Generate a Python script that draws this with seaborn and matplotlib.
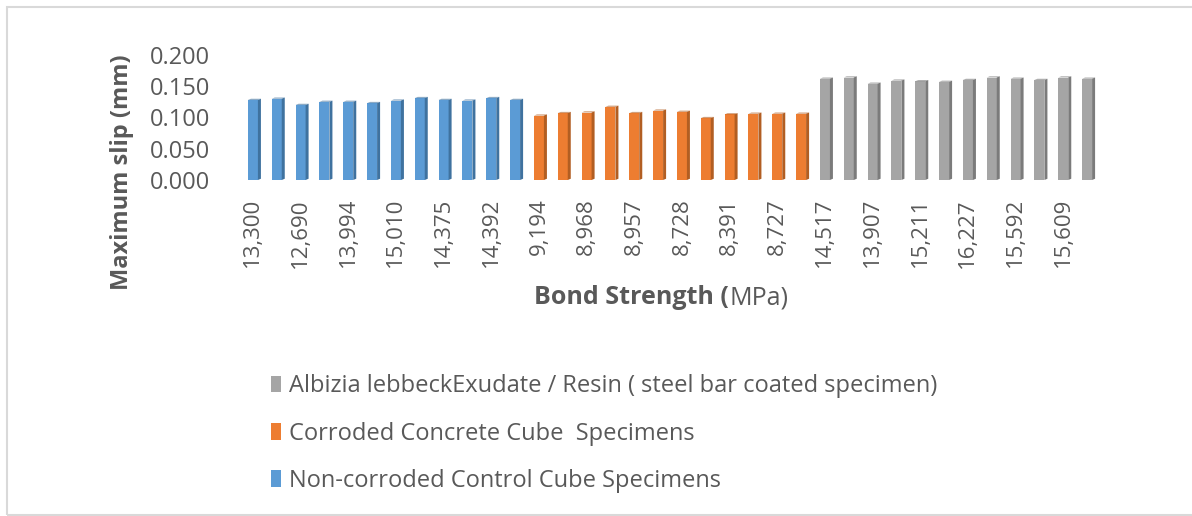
import numpy as np
import pandas as pd
import matplotlib
matplotlib.use("Agg")
import matplotlib.pyplot as plt
from matplotlib.patches import Patch, Polygon, Rectangle
import seaborn as sns

# Maximum slip (mm) for each specimen, in chart order
control_slip = [0.128, 0.130, 0.120, 0.125, 0.125, 0.123, 0.127, 0.131, 0.128, 0.127, 0.131, 0.128]
corroded_slip = [0.103, 0.107, 0.108, 0.117, 0.107, 0.111, 0.109, 0.099, 0.105, 0.106, 0.106, 0.106]
coated_slip = [0.162, 0.164, 0.154, 0.159, 0.158, 0.157, 0.160, 0.164, 0.162, 0.160, 0.164, 0.162]

# Bond strength (MPa) labels shown under every other specimen
control_bond = ["13,300", "12,690", "13,994", "15,010", "14,375", "14,392"]
corroded_bond = ["9,194", "8,968", "8,957", "8,728", "8,391", "8,727"]
coated_bond = ["14,517", "13,907", "15,211", "16,227", "15,592", "15,609"]

series_names = [
    "Non-corroded Control Cube Specimens",
    "Corroded Concrete Cube  Specimens",
    "Albizia lebbeckExudate / Resin ( steel bar coated specimen)",
]
front_colors = ["#5B9BD5", "#ED7D31", "#A5A5A5"]
side_colors = ["#3F729F", "#B25E22", "#7B7B7B"]

slips = control_slip + corroded_slip + coated_slip
groups = ([series_names[0]] * len(control_slip) + [series_names[1]] * len(corroded_slip)
          + [series_names[2]] * len(coated_slip))
df = pd.DataFrame({"specimen": [str(i) for i in range(len(slips))],
                   "slip": slips, "group": groups})
tick_labels = control_bond + corroded_bond + coated_bond

sns.set_theme(style="white")
plt.rcParams["font.family"] = ["Open Sans", "DejaVu Sans"]
text_color = "#595959"

fig = plt.figure(figsize=(11.92, 5.16), dpi=100)
ax = fig.add_axes([241 / 1192, 1 - 180 / 516, 858 / 1192, 125 / 516])

sns.barplot(data=df, x="specimen", y="slip", hue="group", hue_order=series_names,
            palette=front_colors, dodge=False, width=0.42, legend=False,
            linewidth=0, saturation=1, ax=ax)

# give each column a shaded side face for a 3-D look
side_of = dict(zip([tuple(np.round(matplotlib.colors.to_rgb(c), 3)) for c in front_colors], side_colors))
for bar in list(ax.patches):
    x0, w, h = bar.get_x(), bar.get_width(), bar.get_height()
    key = tuple(np.round(bar.get_facecolor()[:3], 3))
    side = side_of.get(key, "#777777")
    d, dy = w * 0.3, 0.002
    ax.add_patch(Polygon([(x0 + w, 0), (x0 + w + d, dy), (x0 + w + d, h + dy), (x0 + w, h)],
                         closed=True, facecolor=side, edgecolor="none", zorder=bar.get_zorder()))
    ax.add_patch(Polygon([(x0, h), (x0 + w, h), (x0 + w + d, h + dy), (x0 + d, h + dy)],
                         closed=True, facecolor=side, edgecolor="none", alpha=0.6,
                         zorder=bar.get_zorder()))

ax.set_ylim(0, 0.2)
ax.set_xlim(-0.5, len(slips) - 0.5)
ax.set_yticks(np.arange(0, 0.2001, 0.05))
ax.set_yticklabels([f"{v:.3f}" for v in np.arange(0, 0.2001, 0.05)],
                   fontsize=17, color=text_color)
ax.set_xticks(range(0, len(slips), 2))
ax.set_xticklabels(tick_labels, rotation=90, fontsize=16, color=text_color)
ax.tick_params(axis="x", length=0, pad=13)
ax.tick_params(axis="y", length=0, pad=22)
ax.set_xlabel("")
ax.set_ylabel("")
for s in ax.spines.values():
    s.set_visible(False)

fig.text(122 / 1192, 1 - 172 / 516, "Maximum slip (mm)", rotation=90, ha="center",
         va="center", fontsize=17, fontweight="bold", color=text_color)
fig.text(729 / 1192, 1 - 298 / 516, "Bond Strength (", ha="right", va="center",
         fontsize=18, fontweight="bold", color=text_color)
fig.text(729 / 1192, 1 - 298 / 516, "MPa)", ha="left", va="center",
         fontsize=18, color=text_color)

handles = [Patch(facecolor=c, edgecolor="none") for c in front_colors[::-1]]
fig.legend(handles, series_names[::-1], loc="upper left",
           bbox_to_anchor=(262 / 1192, 1 - 365 / 516), frameon=False,
           fontsize=17, labelcolor=text_color, handlelength=0.42, handleheight=0.7,
           handletextpad=0.33, labelspacing=0.98, borderaxespad=0)

fig.add_artist(Rectangle((7 / 1192, 1 / 516), 1.2, 508 / 516, transform=fig.transFigure,
                         facecolor="none", edgecolor="#d9d9d9", linewidth=1.5))

fig.savefig("out.png", dpi=100, facecolor="white")
